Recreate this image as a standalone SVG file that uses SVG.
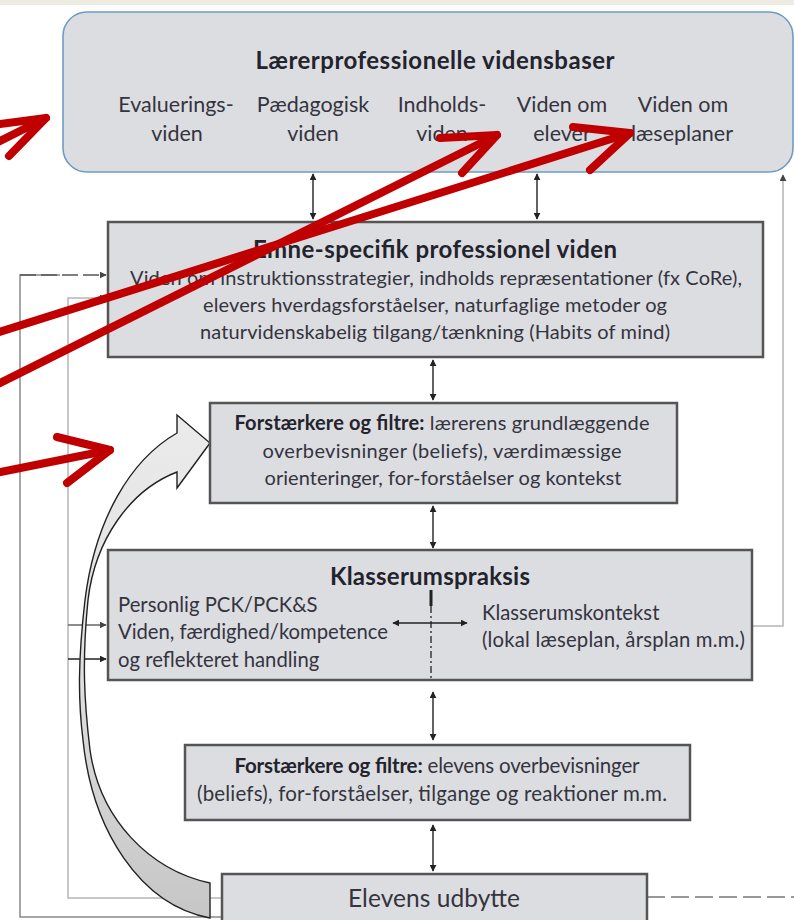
<svg xmlns="http://www.w3.org/2000/svg" width="794" height="920" viewBox="0 0 794 920">
<style>
  .box{fill:#dcdde0;stroke:#555;stroke-width:2.5}
  .t{font-family:Lato,"Liberation Sans",sans-serif;fill:#34343f}
  .h{font-family:Lato,"Liberation Sans",sans-serif;font-weight:bold;fill:#23232d}
  .c{stroke:#222;stroke-width:1.4;fill:none}
  .g{stroke:#8a8a8a;stroke-width:1.5;fill:none}
  .lg{stroke:#b5b5b5;stroke-width:1.5;fill:none}
  .red{stroke:#c00000;stroke-width:8;fill:none;stroke-linecap:round;stroke-linejoin:round}
</style>
<defs>
  <marker id="ah" viewBox="0 0 10 10" refX="9" refY="5" markerWidth="7" markerHeight="7" orient="auto-start-reverse" markerUnits="userSpaceOnUse">
    <path d="M0,0 L10,5 L0,10 z" fill="#222"/>
  </marker>
  <marker id="ahg" viewBox="0 0 10 10" refX="9" refY="5" markerWidth="7" markerHeight="7" orient="auto-start-reverse" markerUnits="userSpaceOnUse">
    <path d="M0,0 L10,5 L0,10 z" fill="#444"/>
  </marker>
  <linearGradient id="cg" x1="0" y1="0" x2="0" y2="1">
    <stop offset="0" stop-color="#ebebec"/>
    <stop offset="0.5" stop-color="#e0e0e1"/>
    <stop offset="1" stop-color="#c6c6c7"/>
  </linearGradient>
</defs>
<rect x="0" y="0" width="794" height="920" fill="#ffffff"/>
<rect x="0" y="0" width="794" height="5" fill="#eeece1"/>

<g id="connectors">
  <polyline class="g" points="222,917 20,917 20,275 60,275"/>
  <line x1="20" y1="275" x2="106" y2="275" stroke="#555" stroke-width="1.5" stroke-dasharray="16,5" marker-end="url(#ahg)"/>
  <polyline class="lg" points="222,898 68,898 68,298 106,298" marker-end="url(#ahg)"/>
  <line x1="68" y1="625" x2="106" y2="625" stroke="#666" stroke-width="1.4" marker-end="url(#ahg)"/>
  <line x1="68" y1="659" x2="106" y2="659" stroke="#222" stroke-width="1.4" marker-end="url(#ah)"/>
  <polyline class="lg" points="752,626 783,626 783,175" marker-end="url(#ahg)"/>
  <line x1="647" y1="897" x2="794" y2="897" stroke="#777" stroke-width="1.4" stroke-dasharray="18,6"/>
  <line class="c" x1="313" y1="174" x2="313" y2="219" marker-start="url(#ah)" marker-end="url(#ah)"/>
  <line class="c" x1="537" y1="174" x2="537" y2="219" marker-start="url(#ah)" marker-end="url(#ah)"/>
  <line class="c" x1="433" y1="360" x2="433" y2="400" marker-start="url(#ah)" marker-end="url(#ah)"/>
  <line class="c" x1="433" y1="506" x2="433" y2="548" marker-start="url(#ah)" marker-end="url(#ah)"/>
  <line class="c" x1="433" y1="692" x2="433" y2="740" marker-start="url(#ah)" marker-end="url(#ah)"/>
  <line class="c" x1="433" y1="825" x2="433" y2="871" marker-start="url(#ah)" marker-end="url(#ah)"/>
</g>

<g id="curved-arrow">
  <path d="M177,433 C130,460 95,520 85,600 C78,660 78,700 83,740 C92,830 140,905 210,918 L210,883 C150,870 100,820 90,750 C84,700 82,660 88,600 C95,540 130,490 177,472 L177,488 L210,443 L177,415 Z" fill="url(#cg)" stroke="#222" stroke-width="1.4" stroke-linejoin="miter"/>
</g>

<g id="node-vidensbaser">
  <rect x="63" y="12" width="730" height="160" rx="24" ry="24" fill="#dcdde0" stroke="#6f9cc4" stroke-width="1.6"/>
  <text class="h" x="435" y="69" font-size="24" text-anchor="middle" textLength="359" lengthAdjust="spacing">Lærerprofessionelle vidensbaser</text>
  <g class="t" font-size="21.5" text-anchor="middle">
    <text x="176" y="112">Evaluerings-</text><text x="177" y="141">viden</text>
    <text x="313" y="112">Pædagogisk</text><text x="313" y="141">viden</text>
    <text x="442" y="112">Indholds-</text><text x="442" y="141">viden</text>
    <text x="562" y="112">Viden om</text><text x="562" y="141">elever</text>
    <text x="683" y="112">Viden om</text><text x="682" y="141">læseplaner</text>
  </g>
</g>

<g id="node-emne">
  <rect class="box" x="108" y="222" width="655" height="135"/>
  <text class="h" x="435" y="258" font-size="24" text-anchor="middle" textLength="364" lengthAdjust="spacing">Emne-specifik professionel viden</text>
  <g class="t" font-size="20" text-anchor="middle">
    <text x="436" y="285" textLength="612" lengthAdjust="spacing">Viden om instruktionsstrategier, indholds repræsentationer (fx CoRe),</text>
    <text x="435" y="312" textLength="464" lengthAdjust="spacing">elevers hverdagsforståelser, naturfaglige metoder og</text>
    <text x="435" y="339" textLength="470" lengthAdjust="spacing">naturvidenskabelig tilgang/tænkning (Habits of mind)</text>
  </g>
</g>

<g id="node-filtre-laerer">
  <rect class="box" x="210" y="403" width="467" height="100"/>
  <g class="t" font-size="20" text-anchor="middle">
    <text x="442" y="430" textLength="415" lengthAdjust="spacing"><tspan class="h">Forstærkere og filtre:</tspan> lærerens grundlæggende</text>
    <text x="442" y="458" textLength="359" lengthAdjust="spacing">overbevisninger (beliefs),  værdimæssige</text>
    <text x="443" y="485" textLength="357" lengthAdjust="spacing">orienteringer, for-forståelser og kontekst</text>
  </g>
</g>

<g id="node-klasserum">
  <rect class="box" x="108" y="550" width="644" height="130"/>
  <text class="h" x="430" y="585" font-size="24" text-anchor="middle" textLength="200" lengthAdjust="spacing">Klasserumspraksis</text>
  <g class="t" font-size="20.3">
    <text x="118" y="612">Personlig PCK/PCK&amp;S</text>
    <text x="118" y="639" textLength="270" lengthAdjust="spacing">Viden, færdighed/kompetence</text>
    <text x="118" y="667">og reflekteret handling</text>
    <text x="482" y="620">Klasserumskontekst</text>
    <text x="482" y="647" textLength="263" lengthAdjust="spacing">(lokal læseplan, årsplan m.m.)</text>
  </g>
  <line x1="431" y1="590" x2="431" y2="606" stroke="#222" stroke-width="3"/>
  <line x1="431" y1="606" x2="431" y2="680" stroke="#222" stroke-width="1.3" stroke-dasharray="7,3,2,3"/>
  <line class="c" x1="393" y1="623" x2="467" y2="623" marker-start="url(#ah)" marker-end="url(#ah)"/>
</g>

<g id="node-filtre-elev">
  <rect class="box" x="185" y="745" width="505" height="75"/>
  <g class="t" font-size="20.5" text-anchor="middle">
    <text x="437" y="773" textLength="405" lengthAdjust="spacing"><tspan class="h">Forstærkere og filtre:</tspan> elevens overbevisninger</text>
    <text x="432" y="801" textLength="470" lengthAdjust="spacing">(beliefs), for-forståelser, tilgange og reaktioner m.m.</text>
  </g>
</g>

<g id="node-udbytte">
  <rect class="box" x="222" y="874" width="425" height="60"/>
  <text class="t" x="434" y="907" font-size="24.5" text-anchor="middle" textLength="172" lengthAdjust="spacing">Elevens udbytte</text>
</g>

<g id="red-arrows">
  <polyline class="red" points="0,124 46,118 9,156"/>
  <line class="red" x1="46" y1="118" x2="-6" y2="144"/>
  <line class="red" x1="-4" y1="385" x2="497" y2="135"/>
  <polyline class="red" points="440,138 497,135 462,173"/>
  <line class="red" x1="-4" y1="333" x2="630" y2="133"/>
  <polyline class="red" points="573,127 630,133 590,170"/>
  <line class="red" x1="-4" y1="473" x2="110" y2="450"/>
  <polyline class="red" points="57,437 110,450 67,483"/>
</g>
</svg>
